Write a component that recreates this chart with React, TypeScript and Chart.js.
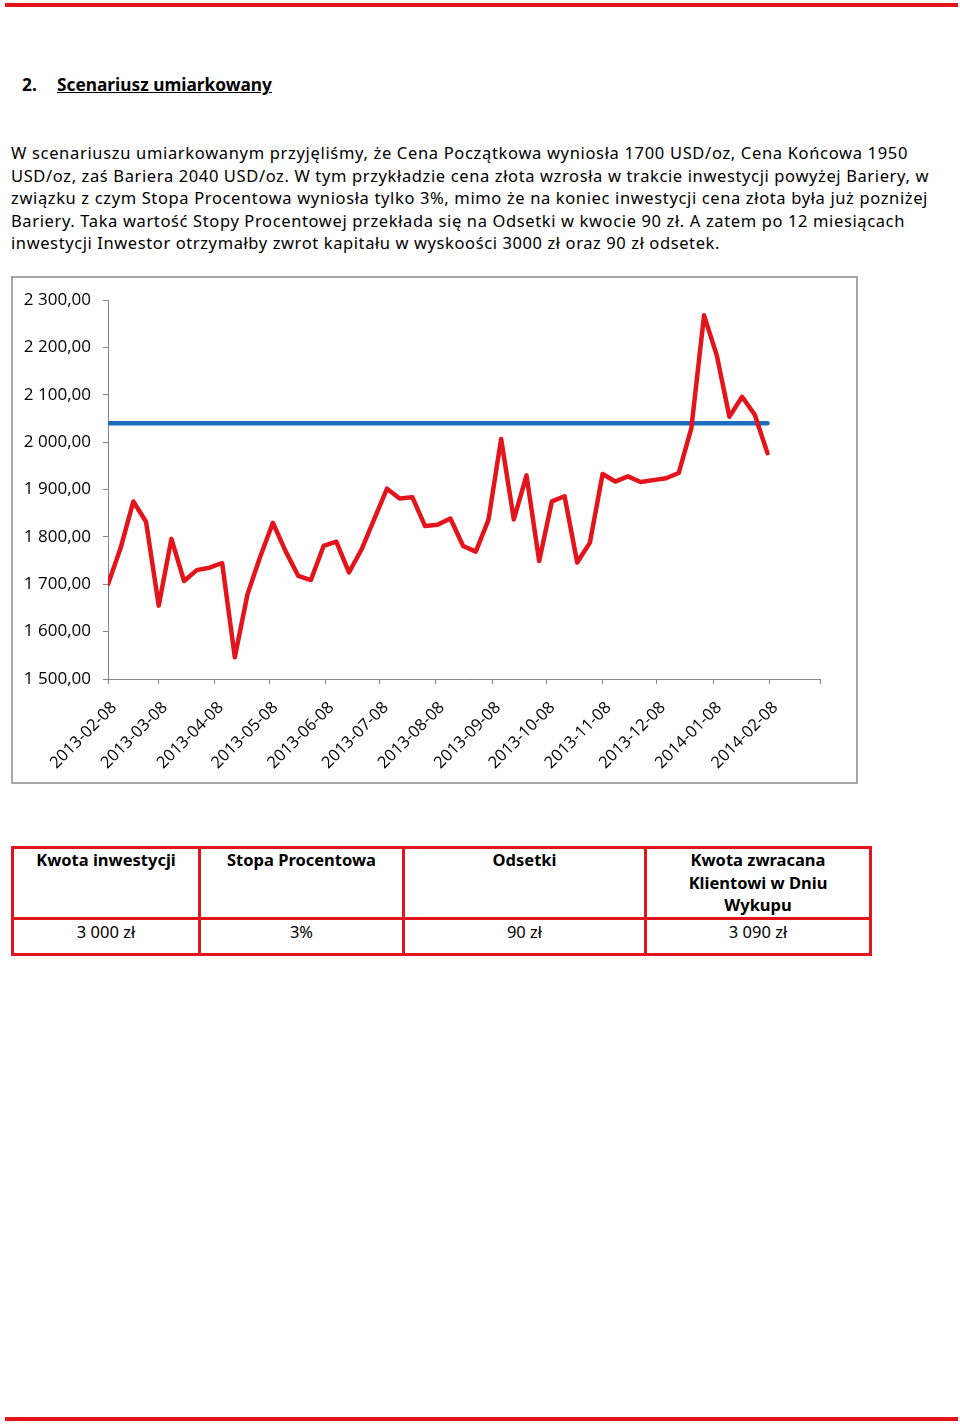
import React, { useEffect, useRef, useMemo } from 'react';
import { Chart, registerables } from 'chart.js';

Chart.register(...registerables);

// ---- data ----
const startDate = '2013-02-08';
const axisEndDate = '2014-03-08';
const monthTickLabels = [
  '2013-02-08', '2013-03-08', '2013-04-08', '2013-05-08', '2013-06-08', '2013-07-08',
  '2013-08-08', '2013-09-08', '2013-10-08', '2013-11-08', '2013-12-08', '2014-01-08', '2014-02-08',
];
// weekly gold price (USD/oz), one value per week starting at startDate
const weeklyPrices = [
  1700, 1777, 1875, 1832, 1655, 1796, 1707, 1730, 1735, 1745,
  1546, 1679, 1758, 1830, 1770, 1718, 1709, 1781, 1790, 1725,
  1774, 1838, 1902, 1881, 1884, 1823, 1826, 1839, 1781, 1769,
  1836, 2007, 1837, 1930, 1749, 1875, 1886, 1746, 1788, 1933,
  1917, 1928, 1916, 1920, 1924, 1935, 2030, 2268, 2184, 2054,
  2096, 2058, 1977,
];
const barrier = 2040;
const yMin = 1500;
const yMax = 2300;
const yStep = 100;

const paragraphLines = [
  'W scenariuszu umiarkowanym przyjęliśmy, że Cena Początkowa wyniosła 1700 USD/oz, Cena Końcowa 1950',
  'USD/oz, zaś Bariera 2040 USD/oz. W tym przykładzie cena złota wzrosła w trakcie inwestycji powyżej Bariery, w',
  'związku z czym Stopa Procentowa wyniosła tylko 3%, mimo że na koniec inwestycji cena złota była już pozniżej',
  'Bariery. Taka wartość Stopy Procentowej przekłada się na Odsetki w kwocie 90 zł. A zatem po 12 miesiącach',
  'inwestycji Inwestor otrzymałby zwrot kapitału w wyskoości 3000 zł oraz 90 zł odsetek.',
];
const lineWidths = [897, 918, 917, 894, 709];

const tableHeaders = ['Kwota inwestycji', 'Stopa Procentowa', 'Odsetki', 'Kwota zwracana Klientowi w Dniu Wykupu'];
const tableValues = ['3 000 zł', '3%', '90 zł', '3 090 zł'];
const colWidths = [187, 204, 242, 225];

// ---- helpers ----
const DAY = 86400000;
const dayOf = (s: string) => (Date.parse(s + 'T00:00:00Z') - Date.parse(startDate + 'T00:00:00Z')) / DAY;
const fmtPL = (v: number) => {
  const th = Math.floor(v / 1000);
  const rest = String(Math.round(v % 1000)).padStart(3, '0');
  return (th > 0 ? th + ' ' + rest : String(Math.round(v))) + ',00';
};

const RED = '#e3141c';
const BLUE = '#1b6ebd';
const AXIS = '#868686';
const TEXT_FONT_SIZE = 16.5;
const TEXT_FONT = '"Noto Sans", sans-serif';

function GoldChart() {
  const ref = useRef<HTMLCanvasElement | null>(null);
  useEffect(() => {
    if (!ref.current) return;
    const priceData = weeklyPrices.map((p, i) => ({ x: i * 7, y: p }));
    const lastX = (weeklyPrices.length - 1) * 7;
    const tickValues = [...monthTickLabels.map(dayOf), dayOf(axisEndDate)];
    const chart = new Chart(ref.current, {
      type: 'line',
      data: {
        datasets: [
          {
            data: priceData,
            borderColor: RED,
            borderWidth: 4.5,
            pointRadius: 0,
            tension: 0,
            borderJoinStyle: 'round',
            borderCapStyle: 'round',
          },
          {
            data: [{ x: 0, y: barrier }, { x: lastX, y: barrier }],
            borderColor: BLUE,
            borderWidth: 4.5,
            pointRadius: 0,
            borderCapStyle: 'round',
          },
        ],
      },
      options: {
        animation: false,
        responsive: false,
        maintainAspectRatio: false,
        layout: { padding: { top: 19, right: 36, left: 0, bottom: 0 } },
        plugins: { legend: { display: false }, tooltip: { enabled: false } },
        events: [],
        scales: {
          x: {
            type: 'linear',
            min: 0,
            max: dayOf(axisEndDate),
            afterBuildTicks: (scale: any) => {
              scale.ticks = tickValues.map((v) => ({ value: v }));
            },
            afterFit: (scale: any) => {
              scale.height = 103;
            },
            grid: { display: true, drawOnChartArea: false, drawTicks: true, tickLength: 5, color: AXIS },
            border: { display: true, color: AXIS, width: 1 },
            ticks: {
              autoSkip: false,
              maxRotation: 45,
              minRotation: 45,
              padding: 14,
              labelOffset: 6,
              color: '#000',
              font: { family: 'Open Sans', size: 16.5 },
              callback: (_v: any, i: number) => monthTickLabels[i] ?? '',
            },
          },
          y: {
            type: 'linear',
            min: yMin,
            max: yMax,
            afterFit: (scale: any) => {
              scale.width = 95;
            },
            grid: { display: true, drawOnChartArea: false, drawTicks: true, tickLength: 5, color: AXIS },
            border: { display: true, color: AXIS, width: 1 },
            ticks: {
              stepSize: yStep,
              padding: 12,
              color: '#000',
              font: { family: 'Open Sans', size: 17 },
              callback: (v: any) => fmtPL(Number(v)),
            },
          },
        },
      },
    } as any);
    return () => chart.destroy();
  }, []);
  return <canvas ref={ref} width={843} height={504} style={{ display: 'block', width: 843, height: 504 }} />;
}

function useLetterSpacings() {
  return useMemo(() => {
    const c = document.createElement('canvas');
    const ctx = c.getContext('2d');
    if (!ctx) return paragraphLines.map(() => 0);
    ctx.font = `${TEXT_FONT_SIZE}px "Noto Sans"`;
    return paragraphLines.map((t, i) => {
      const w = ctx.measureText(t).width;
      const n = [...t].length;
      return Math.max(0, (lineWidths[i] - w) / n);
    });
  }, []);
}

export default function App() {
  const spacings = useLetterSpacings();
  return (
    <div style={{ position: 'absolute', left: 0, top: 0, width: 960, height: 1425, background: '#fff', fontFamily: TEXT_FONT, color: '#000' }}>
      <div style={{ position: 'absolute', left: 5, top: 3, width: 953, height: 4, background: RED }} />

      <div style={{ position: 'absolute', left: 22, top: 73, fontSize: 17.3, fontWeight: 700, lineHeight: '24px' }}>2.</div>
      <div style={{ position: 'absolute', left: 57, top: 73, fontSize: 17.3, fontWeight: 700, lineHeight: '24px', textDecoration: 'underline' }}>
        Scenariusz umiarkowany
      </div>

      {paragraphLines.map((t, i) => (
        <div
          key={i}
          style={{
            position: 'absolute',
            left: 11,
            top: 142 + i * 22.5,
            whiteSpace: 'nowrap',
            fontSize: TEXT_FONT_SIZE,
            lineHeight: '22px',
            letterSpacing: `${spacings[i]}px`,
          }}
        >
          {t}
        </div>
      ))}

      <div style={{ position: 'absolute', left: 11, top: 276, width: 843, height: 504, border: '2px solid #a6a6a6' }}>
        <GoldChart />
      </div>

      <table
        style={{
          position: 'absolute',
          left: 11,
          top: 846,
          borderCollapse: 'collapse',
          tableLayout: 'fixed',
          width: 858,
          fontSize: 16.5,
        }}
      >
        <colgroup>
          {colWidths.map((w, i) => (
            <col key={i} style={{ width: w }} />
          ))}
        </colgroup>
        <tbody>
          <tr style={{ height: 66 }}>
            {tableHeaders.map((h, i) => (
              <td
                key={i}
                style={{
                  border: `3px solid ${RED}`,
                  fontWeight: 700,
                  textAlign: 'center',
                  verticalAlign: 'top',
                  padding: i === 3 ? '0 30px' : '0 4px',
                  lineHeight: '22.5px',
                }}
              >
                {h}
              </td>
            ))}
          </tr>
          <tr style={{ height: 36 }}>
            {tableValues.map((v, i) => (
              <td
                key={i}
                style={{ border: `3px solid ${RED}`, textAlign: 'center', verticalAlign: 'top', padding: '0', lineHeight: '24px' }}
              >
                {v}
              </td>
            ))}
          </tr>
        </tbody>
      </table>

      <div style={{ position: 'absolute', left: 5, top: 1417, width: 953, height: 4, background: RED }} />
    </div>
  );
}
